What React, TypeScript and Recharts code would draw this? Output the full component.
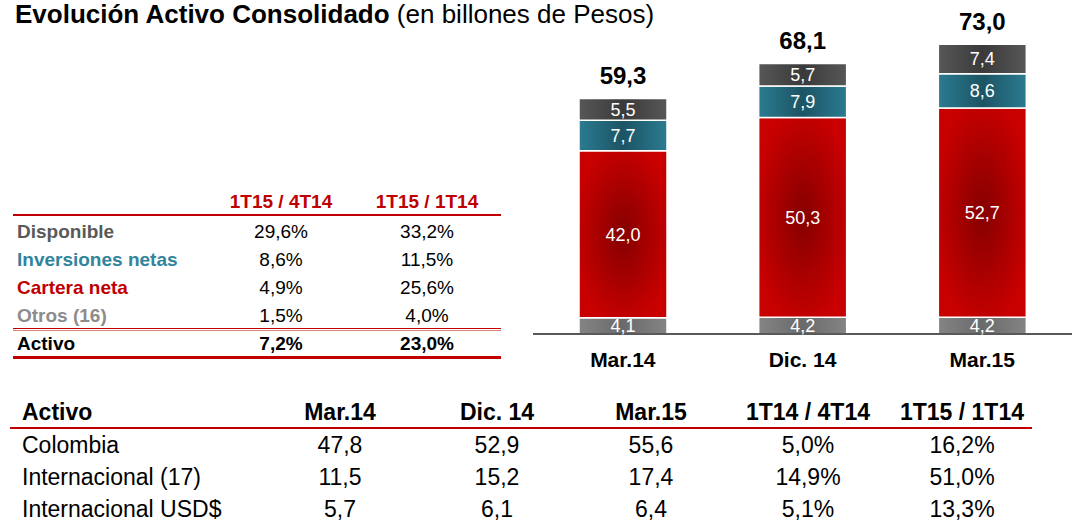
import { BarChart, Bar, XAxis, YAxis, LabelList } from "recharts";

const FONT = "'Liberation Sans', Arial, sans-serif";

// stacked bar data (billones de pesos)
const periods = ["Mar.14", "Dic. 14", "Mar.15"];
const otros = [4.1, 4.2, 4.2];
const cartera = [42.0, 50.3, 52.7];
const inversiones = [7.7, 7.9, 8.6];
const disponible = [5.5, 5.7, 7.4];
const totals = [59.3, 68.1, 73.0];

// growth table next to the chart
const growthHeaders = ["1T15 / 4T14", "1T15 / 1T14"];
const growthLabels = ["Disponible", "Inversiones netas", "Cartera neta", "Otros (16)"];
const growthColors = ["#595959", "#31849b", "#c00000", "#8c8c8c"];
const growthQoQ = ["29,6%", "8,6%", "4,9%", "1,5%"];
const growthYoY = ["33,2%", "11,5%", "25,6%", "4,0%"];
const growthTotal = ["7,2%", "23,0%"];

// bottom table
const regionHeaders = ["Activo", "Mar.14", "Dic. 14", "Mar.15", "1T14 / 4T14", "1T15 / 1T14"];
const regionLabels = ["Colombia", "Internacional (17)", "Internacional USD$"];
const regionMar14 = ["47,8", "11,5", "5,7"];
const regionDic14 = ["52,9", "15,2", "6,1"];
const regionMar15 = ["55,6", "17,4", "6,4"];
const regionQoQ = ["5,0%", "14,9%", "5,1%"];
const regionYoY = ["16,2%", "51,0%", "13,3%"];

const data = periods.map((p, i) => ({
  period: p,
  otros: otros[i],
  cartera: cartera[i],
  inversiones: inversiones[i],
  disponible: disponible[i],
  total: totals[i],
}));

const fmt = (v: any) => Number(v).toFixed(1).replace(".", ",");

const segLabel = {
  fill: "#fff",
  fontSize: 18,
  fontFamily: FONT,
};

const abs = (left: number, top: number, extra: any = {}) => ({
  position: "absolute" as const,
  left,
  top,
  whiteSpace: "nowrap" as const,
  ...extra,
});

// centred text helper
const Cell = ({ x, y, w, children, style }: any) => (
  <div style={abs(x - w / 2, y, { width: w, textAlign: "center", ...style })}>{children}</div>
);

const gColX = [281, 427];
const gRowY = [221, 249, 277, 305];
const rColX = [340, 497, 651, 808, 962];
const rRowY = [432, 464, 496];

export default function App() {
  return (
    <div style={{ position: "absolute", left: 0, top: 0, width: 1075, height: 524, background: "#fff", fontFamily: FONT, overflow: "hidden" }}>
      {/* title */}
      <div style={abs(15, 0, { fontSize: 26, lineHeight: "28px" })}>
        <b>Evolución Activo Consolidado</b> (en billones de Pesos)
      </div>

      {/* growth table */}
      {growthHeaders.map((h, i) => (
        <Cell key={h} x={gColX[i]} y={191} w={140} style={{ fontSize: 19, fontWeight: 700, color: "#c00000", lineHeight: "22px" }}>{h}</Cell>
      ))}
      <div style={abs(13, 214, { width: 488, height: 2, background: "#c00000" })} />
      {growthLabels.map((l, i) => (
        <div key={l}>
          <div style={abs(17, gRowY[i], { fontSize: 19, fontWeight: 700, color: growthColors[i], lineHeight: "22px" })}>{l}</div>
          <Cell x={gColX[0]} y={gRowY[i]} w={120} style={{ fontSize: 19, lineHeight: "22px" }}>{growthQoQ[i]}</Cell>
          <Cell x={gColX[1]} y={gRowY[i]} w={120} style={{ fontSize: 19, lineHeight: "22px" }}>{growthYoY[i]}</Cell>
        </div>
      ))}
      <div style={abs(13, 328, { width: 488, height: 1, background: "#c00000" })} />
      <div style={abs(13, 330, { width: 488, height: 1, background: "#e08080" })} />
      <div style={abs(17, 333, { fontSize: 19, fontWeight: 700, lineHeight: "22px" })}>Activo</div>
      {growthTotal.map((t, i) => (
        <Cell key={i} x={gColX[i]} y={333} w={120} style={{ fontSize: 19, fontWeight: 700, lineHeight: "22px" }}>{t}</Cell>
      ))}
      <div style={abs(13, 356, { width: 488, height: 3, background: "#c00000" })} />

      {/* bar chart */}
      <div style={abs(533, 0)}>
        <BarChart width={539} height={380} data={data} margin={{ top: 36, right: 0, left: 0, bottom: 0 }} barSize={88}>
          <defs>
            <radialGradient id="gRed" cx="50%" cy="50%" r="55%">
              <stop offset="0%" stopColor="#850000" />
              <stop offset="100%" stopColor="#c80000" />
            </radialGradient>
            <linearGradient id="gTeal" x1="0" y1="0" x2="1" y2="0">
              <stop offset="0%" stopColor="#2b7b91" />
              <stop offset="50%" stopColor="#1c5464" />
              <stop offset="100%" stopColor="#2b7b91" />
            </linearGradient>
            <linearGradient id="gDark" x1="0" y1="0" x2="1" y2="0">
              <stop offset="0%" stopColor="#575757" />
              <stop offset="50%" stopColor="#3a3a3a" />
              <stop offset="100%" stopColor="#575757" />
            </linearGradient>
            <linearGradient id="gGray" x1="0" y1="0" x2="1" y2="0">
              <stop offset="0%" stopColor="#848484" />
              <stop offset="50%" stopColor="#6a6a6a" />
              <stop offset="100%" stopColor="#848484" />
            </linearGradient>
          </defs>
          <XAxis
            dataKey="period"
            height={46}
            tickLine={false}
            tickSize={0}
            tickMargin={18}
            axisLine={{ stroke: "#595959", strokeWidth: 2 }}
            tick={{ fill: "#000", fontSize: 21, fontWeight: 700, fontFamily: FONT }}
          />
          <YAxis hide domain={[0, 75]} />
          <Bar dataKey="otros" stackId="a" fill="url(#gGray)" stroke="#fff" strokeWidth={1.5} isAnimationActive={false}>
            <LabelList dataKey="otros" position="center" formatter={fmt} style={segLabel} />
          </Bar>
          <Bar dataKey="cartera" stackId="a" fill="url(#gRed)" stroke="#fff" strokeWidth={1.5} isAnimationActive={false}>
            <LabelList dataKey="cartera" position="center" formatter={fmt} style={segLabel} />
          </Bar>
          <Bar dataKey="inversiones" stackId="a" fill="url(#gTeal)" stroke="#fff" strokeWidth={1.5} isAnimationActive={false}>
            <LabelList dataKey="inversiones" position="center" formatter={fmt} style={segLabel} />
          </Bar>
          <Bar dataKey="disponible" stackId="a" fill="url(#gDark)" stroke="#fff" strokeWidth={1.5} isAnimationActive={false}>
            <LabelList dataKey="disponible" position="center" formatter={fmt} style={segLabel} />
            <LabelList
              dataKey="total"
              position="top"
              offset={14}
              formatter={fmt}
              style={{ fill: "#000", fontSize: 24, fontWeight: 700, fontFamily: FONT }}
            />
          </Bar>
        </BarChart>
      </div>

      {/* bottom table */}
      <div style={abs(22, 399, { fontSize: 23, fontWeight: 700, lineHeight: "26px" })}>{regionHeaders[0]}</div>
      {regionHeaders.slice(1).map((h, i) => (
        <Cell key={h} x={rColX[i]} y={399} w={150} style={{ fontSize: 23, fontWeight: 700, lineHeight: "26px" }}>{h}</Cell>
      ))}
      <div style={abs(10, 427, { width: 1022, height: 2, background: "#c00000" })} />
      {regionLabels.map((l, i) => (
        <div key={l}>
          <div style={abs(22, rRowY[i], { fontSize: 23, lineHeight: "26px" })}>{l}</div>
          {[regionMar14, regionDic14, regionMar15, regionQoQ, regionYoY].map((col, j) => (
            <Cell key={j} x={rColX[j]} y={rRowY[i]} w={120} style={{ fontSize: 23, lineHeight: "26px" }}>{col[i]}</Cell>
          ))}
        </div>
      ))}
    </div>
  );
}
